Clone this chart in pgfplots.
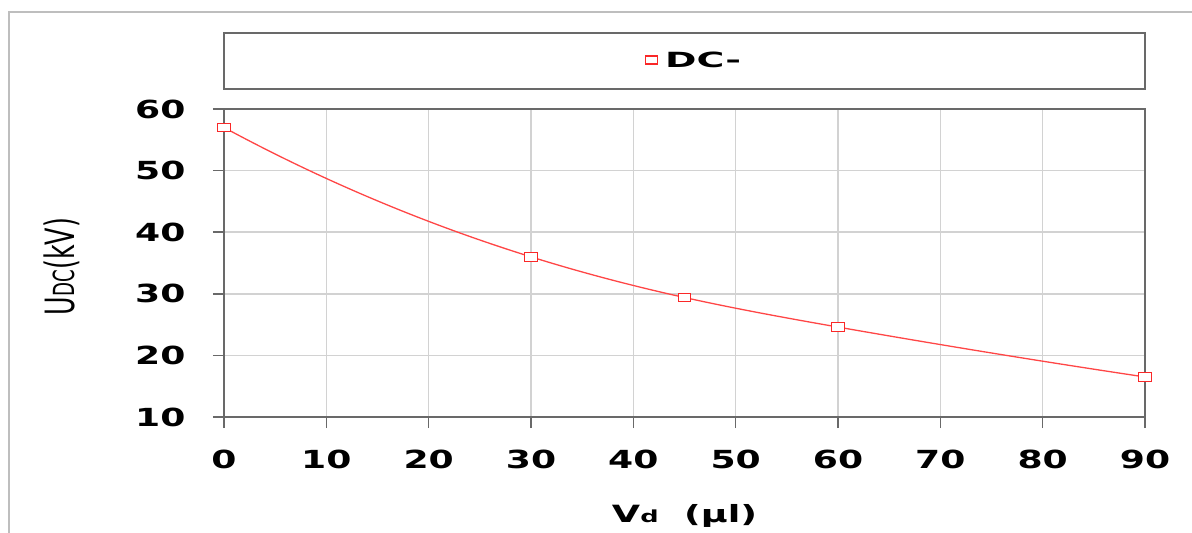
\documentclass[border=0pt]{standalone}
\usepackage{pgfplots}
\pgfplotsset{compat=1.18}
\usetikzlibrary{hobby}
\usepackage{fontspec}
\setmainfont{DejaVu Sans}[FakeStretch=1.45]
\definecolor{axgray}{RGB}{105,105,105}
\definecolor{gridgray}{RGB}{210,210,210}
\definecolor{framegray}{RGB}{190,190,190}
\definecolor{lred}{RGB}{255,70,70}
\definecolor{mred}{RGB}{250,40,40}
\begin{document}
\begin{tikzpicture}
\begin{axis}[
  at={(0,0)}, anchor=south west,
  scale only axis, width=921bp, height=308bp,
  xmin=0, xmax=90, ymin=10, ymax=60,
  xtick={0,10,...,90}, ytick={10,20,...,60},
  tick pos=left,
  grid=major,
  major grid style={gridgray, line width=1.5bp},
  axis line style={axgray, line width=2bp},
  tick style={axgray, line width=1.5bp},
  tick align=outside,
  major tick length=11bp,
  clip=false,
  /pgf/number format/assume math mode=true,
  ticklabel style={font=\bfseries\fontsize{25}{25}\selectfont},
  xticklabel style={anchor=base, yshift=-40bp},
  yticklabel style={anchor=east, xshift=-24bp},
  xlabel={\resizebox*{145bp}{23bp}{\bfseries V{\fontsize{7}{7}\selectfont d}\ \ (µl)}},
  ylabel={\resizebox*{97bp}{36bp}{U{\fontsize{7.2}{7}\selectfont DC}(kV)}},
  every axis x label/.style={at={(axis description cs:0.5,-0.321)}, anchor=center},
  every axis y label/.style={at={(axis description cs:-0.1764,0.4886)}, rotate=90, anchor=center},
  legend style={at={(axis description cs:0.514,1.159)}, anchor=center, draw=none, fill=none,
    font=\bfseries\fontsize{21}{21}\selectfont, inner sep=0pt, nodes={inner xsep=8bp}},
]
\draw[axgray, line width=2bp] (axis description cs:0,1.065) rectangle (axis description cs:1,1.247);
\addplot[lred, line width=1.3bp, hobby, mark=square*, mark size=4.3bp,
  mark options={draw=mred, fill=white, line width=1.2bp, solid, xscale=1.45}, forget plot]
  coordinates {(0,57) (30,36) (45,29.4) (60,24.6) (90,16.5)};
\addlegendimage{only marks, mark=square*, mark size=4bp, mark options={draw=mred, fill=white, line width=1.1bp, xscale=1.45}}
\addlegendentry{\scalebox{1.25}[1]{DC-}}
\end{axis}
\pgfresetboundingbox
\path[use as bounding box] ([shift={(-224bp,-116bp)}]current axis.south west) rectangle ([shift={(968bp,417bp)}]current axis.south west);
\draw[framegray, line width=1.5bp] ([shift={(-215bp,-118bp)}]current axis.south west) -- ([shift={(-215bp,405bp)}]current axis.south west) -- ([shift={(970bp,405bp)}]current axis.south west);
\end{tikzpicture}
\end{document}
